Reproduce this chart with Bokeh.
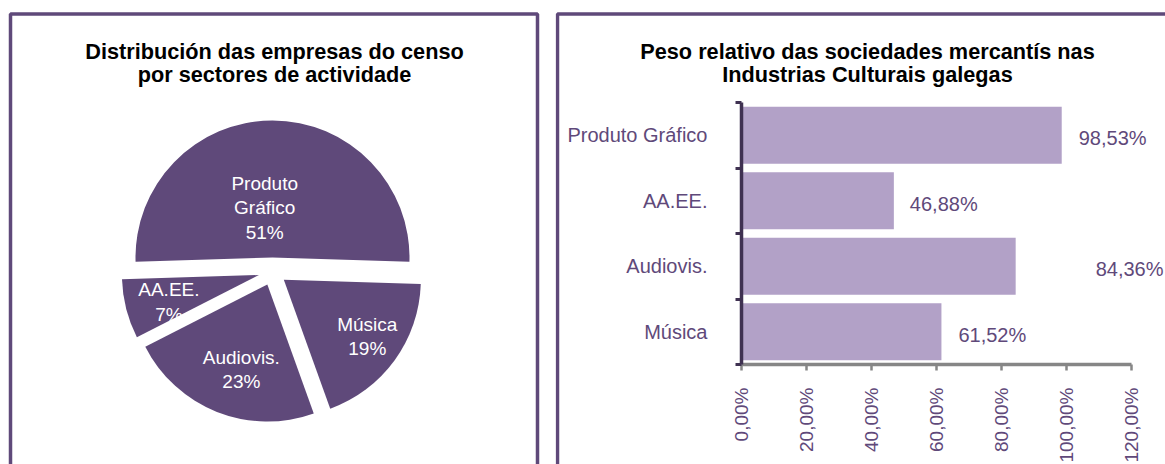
import numpy as np
from bokeh.plotting import figure
from bokeh.models import Range1d, ColumnDataSource, FixedTicker, BoxAnnotation, Label
from bokeh.layouts import row
from bokeh.embed import file_html
from bokeh.resources import INLINE
from bokeh.core.properties import value

# ---------------- data ----------------
pie_categories = ["Produto Gráfico", "AA.EE.", "Audiovis.", "Música"]
pie_label_names = ["Produto\nGráfico", "AA.EE.", "Audiovis.", "Música"]
pie_shares = [51, 7, 23, 19]

bar_categories = ["Produto Gráfico", "AA.EE.", "Audiovis.", "Música"]
bar_values = [98.53, 46.88, 84.36, 61.52]

x_ticks = [0, 20, 40, 60, 80, 100, 120]
x_tick_labels = ["0,00%", "20,00%", "40,00%", "60,00%", "80,00%", "100,00%", "120,00%"]

title_left = ["Distribución das empresas do censo", "por sectores de actividade"]
title_right = ["Peso relativo das sociedades mercantís nas", "Industrias Culturais galegas"]

# ---------------- styles ----------------
PURPLE_DARK = "#5F497A"
PURPLE_LIGHT = "#B2A1C7"
PURPLE_AXIS = "#3F3151"
GRAY_AXIS = "#868686"
FONT = "Liberation Sans"
TITLE_SIZE = "21.7px"

W1, W2, H = 555, 610, 464

# ================= left panel: pie =================
p1 = figure(width=W1, height=H, x_range=Range1d(0, W1), y_range=Range1d(0, H),
            output_backend="svg", toolbar_location=None, min_border=0,
            x_axis_location=None, y_axis_location=None)
p1.grid.visible = False
p1.outline_line_color = None
p1.background_fill_color = "white"
p1.border_fill_color = "white"

shares = np.array(pie_shares, dtype=float)
frac = shares / shares.sum()
start0 = np.pi / 2 - frac[0] * np.pi          # first slice centred at the top
ends = start0 + 2 * np.pi * np.cumsum(frac)
starts = ends - 2 * np.pi * frac
mids = (starts + ends) / 2

CX, CY, R, EXPL = 272, H - 271, 137, 14
label_dist = np.array([64, 108, 103, 115])
label_ang = mids + np.radians([7, 2, 4, 1.5])

pie_src = ColumnDataSource(dict(
    x=CX + EXPL * np.cos(mids), y=CY + EXPL * np.sin(mids),
    start=starts, end=ends, name=pie_categories,
))
p1.wedge(x="x", y="y", radius=R, start_angle="start", end_angle="end",
         source=pie_src, fill_color=PURPLE_DARK, line_color=None)

lab_src = ColumnDataSource(dict(
    x=CX + label_dist * np.cos(label_ang),
    y=CY + label_dist * np.sin(label_ang),
    text=[f"{n}\n{int(round(s))}%" for n, s in zip(pie_label_names, pie_shares)],
))
p1.text(x="x", y="y", text="text", source=lab_src, text_align="center",
        text_baseline="middle", text_color="white", text_font=value(FONT),
        text_font_size="19px", text_line_height=1.15)

for i, t in enumerate(title_left):
    p1.add_layout(Label(x=274, y=H - 51 - 23 * i, text=t, text_align="center",
                        text_baseline="alphabetic", text_font=FONT,
                        text_font_size=TITLE_SIZE, text_font_style="bold",
                        text_color="black"))

p1.add_layout(BoxAnnotation(left=10, right=537, top=H - 13.5, bottom=-60,
                            fill_alpha=0, line_color=PURPLE_DARK, line_alpha=1,
                            line_width=3.5))

# ================= right panel: bars =================
# frame covers whole canvas; axes are pinned inside with fixed_location
AXIS_X0 = 741 - W1      # canvas px where 0 % lies
AXIS_Y0 = 364           # canvas px (from top) of the category axis bottom
AXIS_MAX = 120
PX_X = 390 / AXIS_MAX   # px per percent
n = len(bar_categories)
PX_Y = 262 / n          # px per category band

x_range = Range1d(-AXIS_X0 / PX_X, (W2 - AXIS_X0) / PX_X)
y_range = Range1d(-(H - AXIS_Y0) / PX_Y, AXIS_Y0 / PX_Y)

def cx_to_data(px):
    return (px - AXIS_X0) / PX_X

def cy_to_data(py):
    return (AXIS_Y0 - py) / PX_Y

p2 = figure(width=W2, height=H, x_range=x_range, y_range=y_range,
            output_backend="svg", toolbar_location=None, min_border=0)
p2.grid.visible = False
p2.outline_line_color = None
p2.background_fill_color = "white"
p2.border_fill_color = "white"

centers = [n - i - 0.5 for i in range(n)]
bar_src = ColumnDataSource(dict(
    y=centers, right=bar_values, cat=bar_categories,
    text=[f"{v:.2f}".replace(".", ",") + "%" for v in bar_values],
    xoff=[17, 16, 80, 17],
))
p2.hbar(y="y", right="right", left=0, height=0.87, source=bar_src,
        fill_color=PURPLE_LIGHT, line_color=None)
p2.text(x="right", y="y", text="text", x_offset="xoff", y_offset=3, source=bar_src,
        text_align="left", text_baseline="middle", text_color=PURPLE_DARK,
        text_font=value(FONT), text_font_size="20px")

# x axis
xa = p2.xaxis[0]
xa.fixed_location = 0
xa.ticker = FixedTicker(ticks=x_ticks)
xa.bounds = (0, AXIS_MAX)
xa.major_label_overrides = {t: l for t, l in zip(x_ticks, x_tick_labels)}
xa.major_label_orientation = np.pi / 2
xa.axis_line_color = GRAY_AXIS
xa.axis_line_width = 3.5
xa.major_tick_line_color = GRAY_AXIS
xa.major_tick_line_width = 2.5
xa.major_tick_out = 6
xa.major_tick_in = 0
xa.minor_tick_line_color = None
xa.major_label_text_color = PURPLE_DARK
xa.major_label_text_font = FONT
xa.major_label_text_font_size = "19px"
xa.major_label_standoff = 17

# y axis
ya = p2.yaxis[0]
ya.fixed_location = 0
ya.bounds = (0, n)
ya.ticker = FixedTicker(ticks=centers, minor_ticks=[float(k) for k in range(n + 1)])
ya.major_label_overrides = {c: name for c, name in zip(centers, bar_categories)}
ya.axis_line_color = PURPLE_AXIS
ya.axis_line_width = 3.5
ya.major_tick_line_color = None
ya.major_tick_out = 0
ya.major_tick_in = 0
ya.minor_tick_line_color = PURPLE_AXIS
ya.minor_tick_line_width = 3
ya.minor_tick_out = 6
ya.minor_tick_in = 0
ya.major_label_text_color = PURPLE_DARK
ya.major_label_text_font = FONT
ya.major_label_text_font_size = "20px"
ya.major_label_standoff = 28

# titles
title_cx = cx_to_data(867 - W1)
for i, t in enumerate(title_right):
    p2.add_layout(Label(x=title_cx, y=cy_to_data(51 + 23 * i), text=t,
                        text_align="center", text_baseline="alphabetic",
                        text_font=FONT, text_font_size=TITLE_SIZE,
                        text_font_style="bold", text_color="black"))

p2.add_layout(BoxAnnotation(left=cx_to_data(2), right=cx_to_data(W2 + 60),
                            top=cy_to_data(13.5), bottom=cy_to_data(H + 60),
                            fill_alpha=0, line_color=PURPLE_DARK, line_alpha=1,
                            line_width=3.5))

layout = row(p1, p2)
open("out.html", "w").write(file_html(layout, INLINE))
